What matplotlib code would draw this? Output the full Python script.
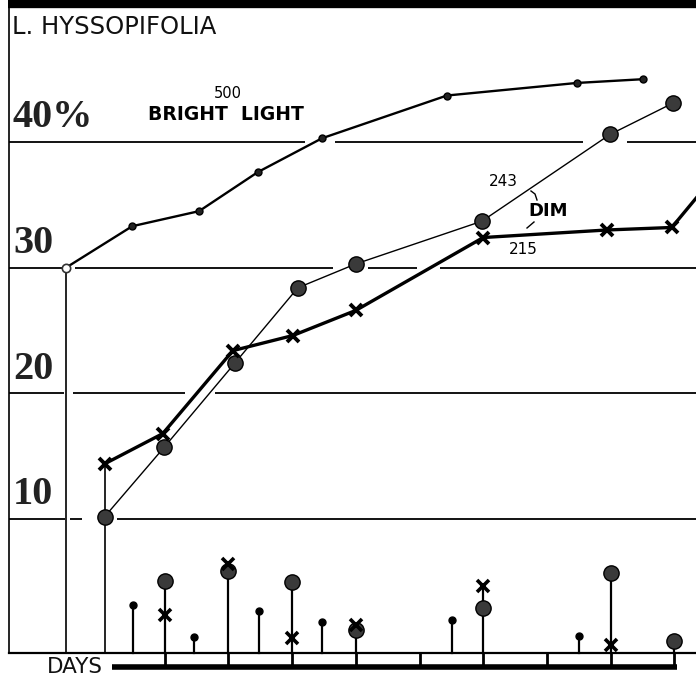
import numpy as np
import matplotlib
matplotlib.use("Agg")
import matplotlib.pyplot as plt

# bright light (500), small dots
bright_days = [-0.55, 0.49, 1.54, 2.46, 3.47, 5.43, 7.47, 8.51]
bright_pct = [30.0, 33.3, 34.5, 37.6, 40.3, 43.7, 44.7, 45.0]

# dim light, 243 (big circles)
dim243_days = [0.06, 0.99, 2.10, 3.09, 4.0, 5.98, 7.99, 8.98]
dim243_pct = [10.2, 15.7, 22.4, 28.4, 30.3, 33.7, 40.6, 43.1]

# dim light, 215 (crosses)
dim215_days = [0.06, 0.97, 2.07, 3.01, 4.0, 6.0, 7.94, 8.96, 9.5]
dim215_pct = [14.4, 16.8, 23.4, 24.6, 26.6, 32.4, 33.0, 33.2, 36.5]

# little stems along the bottom (height above the base line)
small_days = [0.5, 1.46, 2.48, 3.47, 5.51, 7.5]
small_h = [3.8, 1.25, 3.3, 2.45, 2.6, 1.35]
big_days = [1, 2, 3, 4, 6, 8, 9]
big_dot_h = [5.7, 6.5, 5.6, 1.8, 3.55, 6.35, 0.95]
big_x_h = [3.0, 7.05, 1.15, 2.2, 5.3, 0.6, np.nan]

day_ticks = [1, 2, 3, 4, 5, 6, 7, 8, 9]
grid_pct = [10, 20, 30, 40]
grid_labels = ["10", "20", "30", "40%"]

W, H = 696, 678


def dx(px):
    # pixel column -> days
    return (px - 101) / 63.7


def vy(py):
    # pixel row -> percent
    return (644.7 - py) / 12.567


fig = plt.figure(figsize=(W / 100, H / 100), dpi=100)
ax = fig.add_axes([0, 0, 1, 1])
ax.set_xlim(dx(0), dx(W))
ax.set_ylim(vy(H), vy(0))
ax.axis("off")

# grid lines, broken like on the print
segs = {
    40: [(9, 305), (335, 583), (627, 696)],
    30: [(9, 62), (75, 333), (368, 417), (440, 696)],
    20: [(9, 64), (73, 185), (215, 696)],
    10: [(9, 65), (70, 82), (117, 696)],
}
for g in grid_pct:
    for a, b in segs[g]:
        ax.plot([dx(a), dx(b)], [g, g], color="black", lw=1.3, solid_capstyle="butt")

for g, lab in zip(grid_pct, grid_labels):
    ax.text(dx(13), g + 0.45, lab, family="Liberation Serif", weight="bold",
            fontsize=29, ha="left", va="bottom", color="#222222")

base = vy(652.7)
bar_y = vy(667)

# frame
ax.plot([dx(9), dx(9)], [base, vy(8)], color="black", lw=1.2)
ax.plot([dx(8), dx(W)], [vy(4), vy(4)], color="black", lw=6, solid_capstyle="butt")
ax.plot([dx(9), dx(W)], [base, base], color="black", lw=1.6)

# vertical drop lines from the starting points
ax.plot([bright_days[0], bright_days[0]], [base, bright_pct[0]], color="black", lw=1.2)
ax.plot([dim215_days[0], dim215_days[0]], [base, dim215_pct[0]], color="black", lw=1.2)

# main curves
ax.plot(bright_days, bright_pct, color="black", lw=1.7, marker="o", ms=5,
        mfc="#222222", mec="black", zorder=4)
ax.plot(bright_days[0], bright_pct[0], marker="o", ms=6, mfc="white",
        mec="#333333", mew=1.2, zorder=5)
ax.plot(dim243_days, dim243_pct, color="black", lw=1.0, marker="o", ms=11,
        mfc="#3a3a3a", mec="black", zorder=4)
ax.plot(dim215_days, dim215_pct, color="black", lw=2.4, marker="x", ms=9,
        mew=2.8, mec="black", zorder=5)

# bottom stems
for d, h in zip(small_days, small_h):
    ax.plot([d, d], [base, base + h], color="black", lw=1.6)
    ax.plot(d, base + h, marker="o", ms=5, color="black")
for d, hd, hx in zip(big_days, big_dot_h, big_x_h):
    top = np.nanmax([hd, hx])
    ax.plot([d, d], [base, base + top], color="black", lw=1.6)
    ax.plot(d, base + hd, marker="o", ms=11, mfc="#3a3a3a", mec="black", zorder=4)
    if not np.isnan(hx):
        ax.plot(d, base + hx, marker="x", ms=8, mew=2.6, color="black", zorder=5)

# days bar
for t in day_ticks:
    ax.plot([t, t], [base, bar_y], color="black", lw=2.0)
ax.plot([dx(112), dx(677)], [bar_y, bar_y], color="black", lw=4, solid_capstyle="butt")
ax.text(dx(47), bar_y, "DAYS", fontsize=15.5, ha="left", va="center", color="#111111")

# labels
ax.text(dx(12), vy(27), "L. HYSSOPIFOLIA", fontsize=17.5, ha="left", va="center",
        color="#111111")
ax.text(dx(228), vy(94), "500", fontsize=10.5, ha="center", va="center")
ax.text(dx(226), vy(115), "BRIGHT  LIGHT", fontsize=13.5, weight="bold",
        ha="center", va="center")
ax.text(dx(503), vy(182), "243", fontsize=11, ha="center", va="center")
ax.text(dx(548), vy(211), "DIM", fontsize=13, weight="bold", ha="center", va="center")
ax.text(dx(523), vy(250), "215", fontsize=11, ha="center", va="center")
ax.plot([dx(531), dx(535), dx(537)], [vy(191), vy(194), vy(200)], color="black", lw=1)
ax.plot([dx(527), dx(534)], [vy(228), vy(222)], color="black", lw=1)

fig.savefig("out.png", dpi=100)
